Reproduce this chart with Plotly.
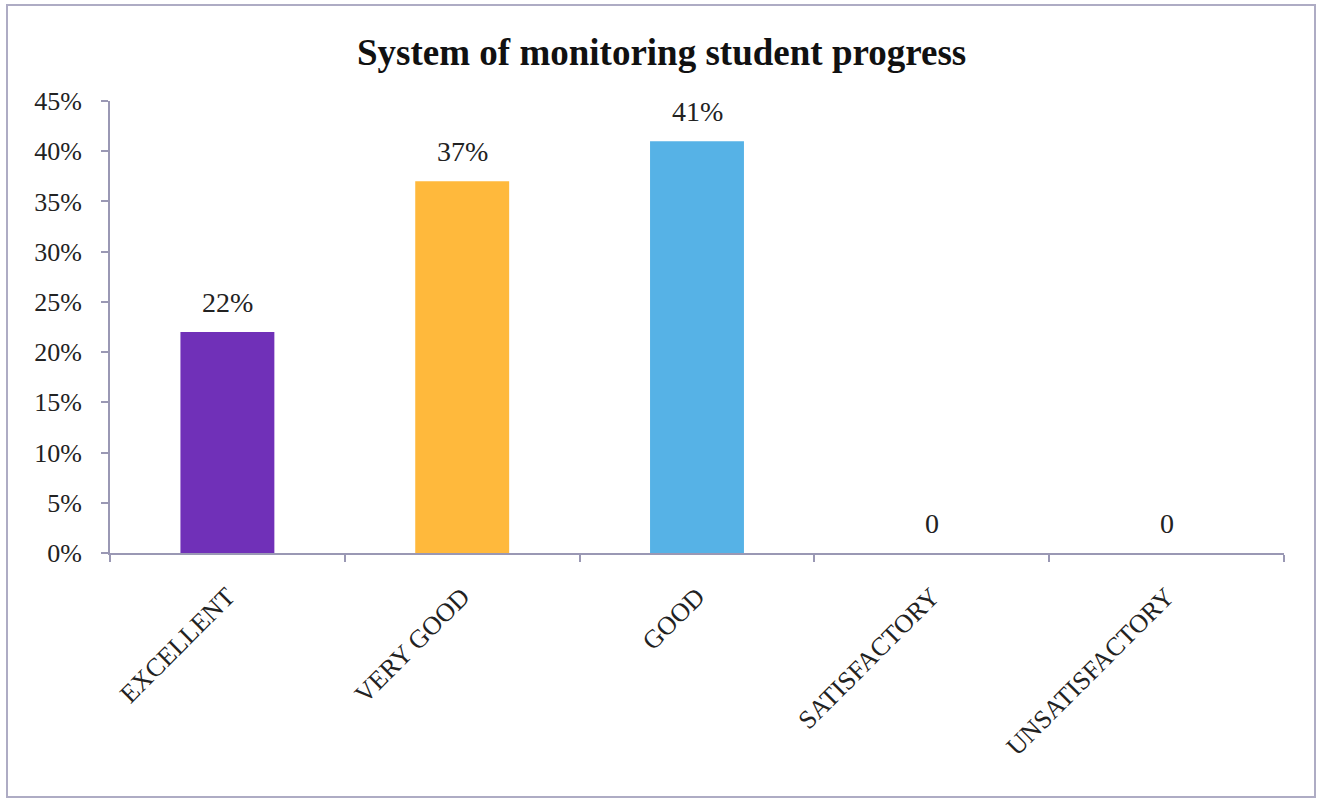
import plotly.graph_objects as go

categories = ["EXCELLENT", "VERY GOOD", "GOOD", "SATISFACTORY", "UNSATISFACTORY"]
values = [0.22, 0.37, 0.41, 0.0, 0.0]
labels = ["22%", "37%", "41%", "0", "0"]
colors = ["#7030B8", "#FFB93C", "#56B2E6", "#7030B8", "#7030B8"]
y_ticks = [0, 0.05, 0.10, 0.15, 0.20, 0.25, 0.30, 0.35, 0.40, 0.45]
y_tick_text = ["0%", "5%", "10%", "15%", "20%", "25%", "30%", "35%", "40%", "45%"]

W, H = 1318, 800
ml, mr, mt, mb = 110, 34, 101, 247
pw, ph = W - ml - mr, H - mt - mb

axis_col = "#9a98b4"
font_fam = "Liberation Serif, Times New Roman, serif"

fig = go.Figure(go.Bar(
    x=categories, y=values,
    marker=dict(color=colors, line=dict(width=0)),
    width=0.4, cliponaxis=False, hoverinfo="x+y",
))

for c, v, t in zip(categories, values, labels):
    fig.add_annotation(x=c, y=v, text=t, showarrow=False, yanchor="bottom",
                       yshift=12, font=dict(size=28, family=font_fam, color="#222222"))

# border rectangle around the chart
x0 = (7 - ml) / pw
x1 = (1315 - ml) / pw
y0 = -(797 - (H - mb)) / ph
y1 = 1 + (mt - 5) / ph
fig.add_shape(type="rect", xref="paper", yref="paper", x0=x0, x1=x1, y0=y0, y1=y1,
              line=dict(color="#aeacc4", width=2), layer="below")

fig.update_layout(
    width=W, height=H,
    margin=dict(l=ml, r=mr, t=mt, b=mb),
    paper_bgcolor="white", plot_bgcolor="white",
    title=dict(text="<b>System of monitoring student progress</b>", x=0.502, xref="container",
               y=1 - 52 / H, yanchor="middle", xanchor="center",
               font=dict(size=37, family=font_fam, color="#111111")),
    font=dict(family=font_fam, color="#222222"),
    showlegend=False,
)
fig.update_xaxes(
    showline=True, linecolor=axis_col, linewidth=2,
    ticks="outside", tickson="boundaries", ticklen=7, tickcolor=axis_col, tickwidth=1.5,
    tickangle=-45, tickfont=dict(size=26, family=font_fam, color="#222222"),
    ticklabelstandoff=16,
    showgrid=False,
)
fig.update_yaxes(
    range=[0, 0.45], tickvals=y_ticks, ticktext=y_tick_text,
    showline=True, linecolor=axis_col, linewidth=2,
    ticks="outside", ticklen=7, tickcolor=axis_col, tickwidth=1.5,
    tickfont=dict(size=26, family=font_fam, color="#222222"),
    ticklabelstandoff=14,
    showgrid=False, zeroline=False,
)

fig.write_html("out.html", config={"displayModeBar": False},
               post_script="document.body.style.margin='0px';document.body.style.overflow='hidden';")
